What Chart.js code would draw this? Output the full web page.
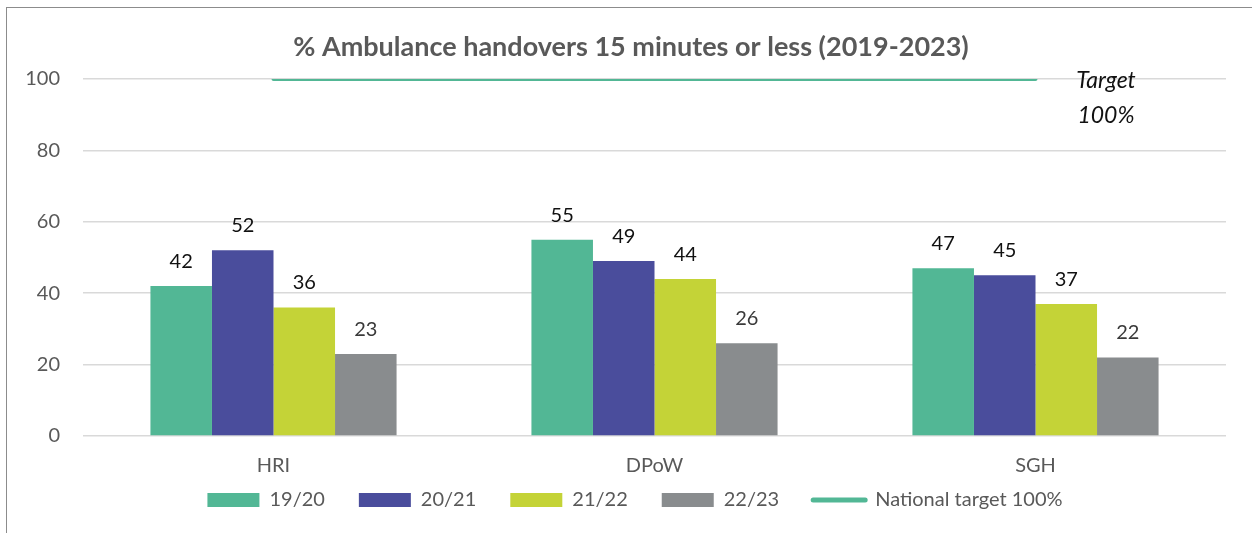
<!DOCTYPE html>
<html>
<head>
<meta charset="utf-8">
<script src="https://cdn.jsdelivr.net/npm/chart.js@4.4.1/dist/chart.umd.min.js"></script>
<style>
  html, body { margin: 0; padding: 0; background: #fff; overflow: hidden; }
  #wrap { position: absolute; left: 0; top: 0; width: 1252px; height: 533px; }
  #frame { position: absolute; left: 6px; top: 7px; width: 1300px; height: 600px;
           border-left: 1.5px solid #8c8c8c; border-top: 1.5px solid #8c8c8c; pointer-events: none; }
</style>
</head>
<body>
<div id="wrap">
  <canvas id="chart" width="1252" height="533"></canvas>
  <div id="frame"></div>
</div>
<script>
// Hospital sites and yearly handover percentages
const sites = ['HRI', 'DPoW', 'SGH'];
const years = ['19/20', '20/21', '21/22', '22/23'];
const fy1920 = [42, 55, 47];
const fy2021 = [52, 49, 45];
const fy2122 = [36, 44, 37];
const fy2223 = [23, 26, 22];
const nationalTarget = [100, 100, 100];
const targetLabel = 'National target 100%';
const yTicks = [0, 20, 40, 60, 80, 100];
const titleText = '% Ambulance handovers 15 minutes or less (2019-2023)';
const targetNote = ['Target', '100%'];

const colours = ['#52b795', '#4a4d9c', '#c4d337', '#898c8e'];
const targetColour = '#52b795';
const FONT = 'Lato, "Open Sans", "DejaVu Sans", sans-serif';

const seriesValues = [fy1920, fy2021, fy2122, fy2223];

// Title, target note and value labels drawn on the canvas
const annotations = {
  id: 'annotations',
  afterLayout(chart) {
    // place the legend row a little higher and centred under the whole frame
    const lg = chart.legend;
    if (!lg) return;
    const h = lg.bottom - lg.top;
    lg.top = 456;
    lg.bottom = lg.top + h;
    lg.left += 22;
    lg.right += 22;
  },
  afterDatasetsDraw(chart) {
    const ctx = chart.ctx;
    ctx.save();
    // value labels above each bar
    ctx.font = '20px ' + FONT;
    ctx.textAlign = 'center';
    ctx.textBaseline = 'alphabetic';
    seriesValues.forEach((vals, di) => {
      const meta = chart.getDatasetMeta(di);
      ctx.fillStyle = di === 3 ? '#3a3a3a' : '#111111';
      meta.data.forEach((bar, i) => {
        ctx.fillText(String(vals[i]), bar.x, bar.y - 18);
      });
    });
    // chart title
    ctx.font = 'bold 27px ' + FONT;
    ctx.fillStyle = '#595959';
    ctx.textBaseline = 'middle';
    ctx.fillText(titleText, 631, 47);
    // target note at the right of the target line
    ctx.font = 'italic 23px ' + FONT;
    ctx.fillStyle = '#111111';
    ctx.textBaseline = 'alphabetic';
    ctx.fillText(targetNote[0], 1106, 88);
    ctx.fillText(targetNote[1], 1106, 123);
    ctx.restore();
  }
};

new Chart(document.getElementById('chart'), {
  data: {
    labels: sites,
    datasets: [
      ...years.map((y, i) => ({
        type: 'bar',
        label: y,
        data: seriesValues[i],
        backgroundColor: colours[i],
        borderWidth: 0,
        categoryPercentage: 0.646,
        barPercentage: 1.0,
        order: 2
      })),
      {
        type: 'line',
        label: targetLabel,
        data: nationalTarget,
        borderColor: targetColour,
        backgroundColor: targetColour,
        borderWidth: 4,
        borderCapStyle: 'round',
        pointRadius: 0,
        pointHoverRadius: 0,
        fill: false,
        order: 1
      }
    ]
  },
  options: {
    responsive: false,
    animation: false,
    layout: { padding: { top: 79, right: 26, left: 0, bottom: -11 } },
    plugins: {
      title: { display: false },
      tooltip: { enabled: false },
      legend: {
        position: 'bottom',
        labels: {
          usePointStyle: true,
          pointStyleWidth: 52,
          boxHeight: 14,
          padding: 34,
          color: '#595959',
          font: { family: FONT, size: 20 },
          generateLabels(chart) {
            return chart.data.datasets.map((ds, i) => {
              const isLine = ds.type === 'line';
              return {
                text: ds.label,
                datasetIndex: i,
                fillStyle: isLine ? targetColour : ds.backgroundColor,
                strokeStyle: isLine ? targetColour : ds.backgroundColor,
                lineWidth: isLine ? 5 : 0,
                lineCap: 'round',
                pointStyle: isLine ? 'line' : 'rect',
                fontColor: '#595959',
                hidden: false
              };
            });
          }
        }
      }
    },
    scales: {
      x: {
        grid: { display: false, drawTicks: false },
        border: { display: false },
        ticks: { color: '#595959', font: { family: FONT, size: 20 }, padding: 18 },
        afterFit(scale) { scale.height = 44; }
      },
      y: {
        min: 0,
        max: 100,
        afterBuildTicks(scale) { scale.ticks = yTicks.map(v => ({ value: v })); },
        grid: { color: '#d9d9d9', lineWidth: 1.6, drawTicks: false },
        border: { display: false },
        ticks: { color: '#595959', font: { family: FONT, size: 20 }, padding: 23 },
        afterFit(scale) { scale.width = 83; }
      }
    }
  },
  plugins: [annotations]
});
</script>
</body>
</html>
